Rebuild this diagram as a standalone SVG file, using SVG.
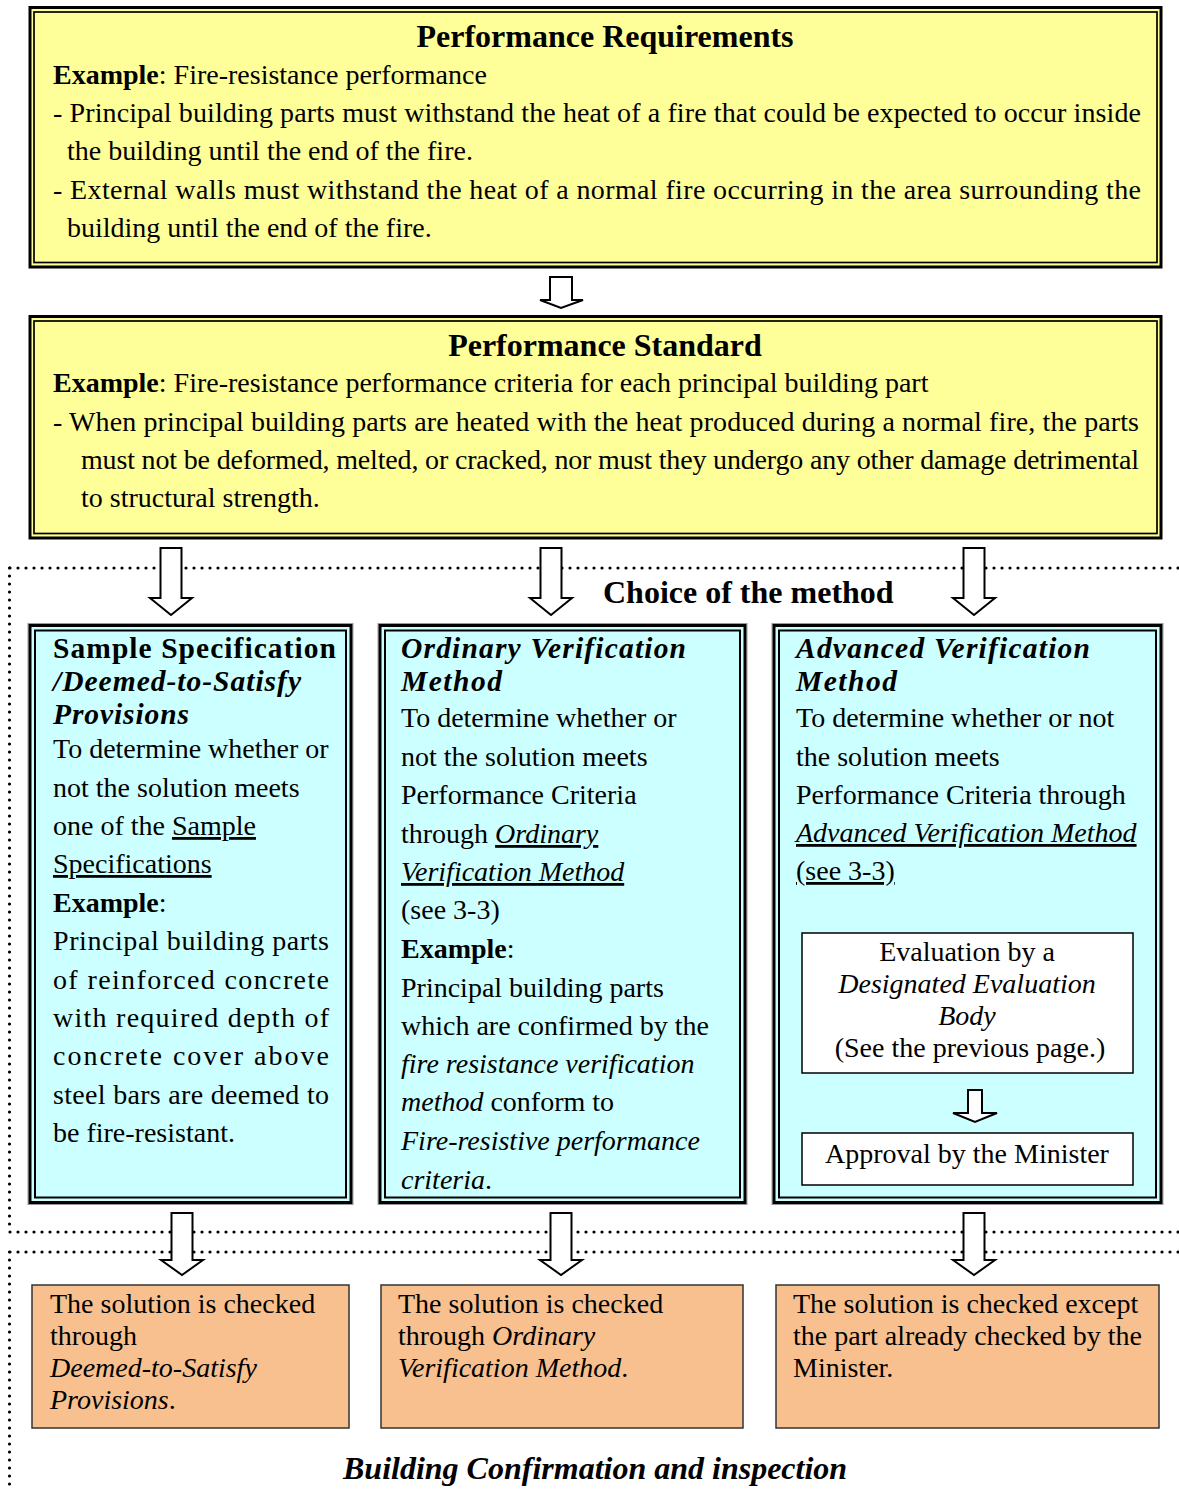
<svg xmlns="http://www.w3.org/2000/svg" width="1179" height="1491" viewBox="0 0 1179 1491">
<style>
text{font-family:"Liberation Serif","Times New Roman",serif;font-size:28px;fill:#000}
.h{font-size:32px;font-weight:bold}
.ht{font-size:29.5px;font-weight:bold}
.b{font-weight:bold}
.i{font-style:italic}
.u{text-decoration:underline}
.mid{text-anchor:middle}
.yo{fill:#FFFF99;stroke:#000;stroke-width:3}
.yi{fill:none;stroke:#000;stroke-width:1.7}
.co{fill:#CCFFFF;stroke:#000;stroke-width:3}
.cg{fill:none;stroke:#999;stroke-width:1}
.ci{fill:none;stroke:#000;stroke-width:2}
.wb{fill:#fff;stroke:#000;stroke-width:1.5}
.ob{fill:#F9C08F;stroke:#333;stroke-width:1.5}
.dot{fill:none;stroke:#000;stroke-width:3.2;stroke-linecap:round;stroke-dasharray:0 8}
.arr{fill:#fff;stroke:#000;stroke-width:2;stroke-linejoin:miter}
</style>
<rect width="1179" height="1491" fill="#fff"/>

<g id="regions">
<path class="dot" d="M10 568 H1179 M9.5 568 V1230 M10 1232 H1179 M10 1252 H1179 M9.5 1252 V1491"/>
<text x="603" y="603" class="h">Choice of the method</text>
<text x="343" y="1479" class="h i">Building Confirmation and inspection</text>
</g>

<g id="performance-requirements">
<rect class="yo" x="30" y="7.5" width="1131" height="259.5"/>
<rect class="yi" x="34" y="12" width="1123" height="250.5"/>
<text x="605" y="47" class="h mid">Performance Requirements</text>
<text x="53" y="84"><tspan class="b">Example</tspan>: Fire-resistance performance</text>
<text x="53" y="122" textLength="1088" lengthAdjust="spacing">- Principal building parts must withstand the heat of a fire that could be expected to occur inside</text>
<text x="67" y="160">the building until the end of the fire.</text>
<text x="53" y="199" textLength="1088" lengthAdjust="spacing">- External walls must withstand the heat of a normal fire occurring in the area surrounding the</text>
<text x="67" y="237">building until the end of the fire.</text>
</g>

<g id="performance-standard">
<rect class="yo" x="30" y="316.5" width="1131" height="221.5"/>
<rect class="yi" x="34" y="321" width="1123" height="212.5"/>
<text x="605" y="356" class="h mid">Performance Standard</text>
<text x="53" y="392"><tspan class="b">Example</tspan>: Fire-resistance performance criteria for each principal building part</text>
<text x="53" y="431" textLength="1086" lengthAdjust="spacing">- When principal building parts are heated with the heat produced during a normal fire, the parts</text>
<text x="81" y="469" textLength="1058" lengthAdjust="spacing">must not be deformed, melted, or cracked, nor must they undergo any other damage detrimental</text>
<text x="81" y="507">to structural strength.</text>
</g>

<g id="sample-specification">
<rect class="cg" x="28" y="623.5" width="325" height="581"/>
<rect class="co" x="30" y="625.5" width="321" height="577"/>
<rect class="ci" x="35" y="630.5" width="311" height="567"/>
<text x="53" y="658" class="ht" textLength="283" lengthAdjust="spacing">Sample Specification</text>
<text x="53" y="691" class="ht i" textLength="248" lengthAdjust="spacing">/Deemed-to-Satisfy</text>
<text x="53" y="724" class="ht i" textLength="136" lengthAdjust="spacing">Provisions</text>
<text x="53" y="758">To determine whether or</text>
<text x="53" y="797">not the solution meets</text>
<text x="53" y="835">one of the <tspan class="u">Sample</tspan></text>
<text x="53" y="873"><tspan class="u">Specifications</tspan></text>
<text x="53" y="912"><tspan class="b">Example</tspan>:</text>
<text x="53" y="950" textLength="276" lengthAdjust="spacing">Principal building parts</text>
<text x="53" y="989" textLength="276" lengthAdjust="spacing">of reinforced concrete</text>
<text x="53" y="1027" textLength="276" lengthAdjust="spacing">with required depth of</text>
<text x="53" y="1065" textLength="276" lengthAdjust="spacing">concrete cover above</text>
<text x="53" y="1104" textLength="276" lengthAdjust="spacing">steel bars are deemed to</text>
<text x="53" y="1142">be fire-resistant.</text>
</g>

<g id="ordinary-verification">
<rect class="cg" x="378" y="623.5" width="369" height="581"/>
<rect class="co" x="380" y="625.5" width="365" height="577"/>
<rect class="ci" x="385" y="630.5" width="355" height="567"/>
<text x="401" y="658" class="ht i" textLength="285" lengthAdjust="spacing">Ordinary Verification</text>
<text x="401" y="691" class="ht i" textLength="101" lengthAdjust="spacing">Method</text>
<text x="401" y="727">To determine whether or</text>
<text x="401" y="766">not the solution meets</text>
<text x="401" y="804">Performance Criteria</text>
<text x="401" y="843">through <tspan class="i u">Ordinary</tspan></text>
<text x="401" y="881"><tspan class="i u">Verification Method</tspan></text>
<text x="401" y="919">(see 3-3)</text>
<text x="401" y="958"><tspan class="b">Example</tspan>:</text>
<text x="401" y="997">Principal building parts</text>
<text x="401" y="1035">which are confirmed by the</text>
<text x="401" y="1073" class="i">fire resistance verification</text>
<text x="401" y="1111"><tspan class="i">method</tspan> conform to</text>
<text x="401" y="1150" class="i">Fire-resistive performance</text>
<text x="401" y="1189"><tspan class="i">criteria</tspan>.</text>
</g>

<g id="advanced-verification">
<rect class="cg" x="772" y="623.5" width="391" height="581"/>
<rect class="co" x="774" y="625.5" width="387" height="577"/>
<rect class="ci" x="779" y="630.5" width="377" height="567"/>
<text x="796" y="658" class="ht i" textLength="294" lengthAdjust="spacing">Advanced Verification</text>
<text x="796" y="691" class="ht i" textLength="101" lengthAdjust="spacing">Method</text>
<text x="796" y="727">To determine whether or not</text>
<text x="796" y="766">the solution meets</text>
<text x="796" y="804">Performance Criteria through</text>
<text x="796" y="842"><tspan class="i u">Advanced Verification Method</tspan></text>
<text x="796" y="880"><tspan class="u">(see 3-3)</tspan></text>
</g>

<g id="evaluation-body">
<rect class="wb" x="802" y="933" width="331" height="140"/>
<text x="967" y="961" class="mid">Evaluation by a</text>
<text x="967" y="993" class="mid i">Designated Evaluation</text>
<text x="967" y="1025" class="mid i">Body</text>
<text x="970" y="1057" class="mid">(See the previous page.)</text>
</g>

<g id="minister-approval">
<rect class="wb" x="802" y="1133" width="331" height="52"/>
<text x="967" y="1163" class="mid">Approval by the Minister</text>
</g>

<g id="check-deemed">
<rect class="ob" x="32" y="1285" width="317" height="143"/>
<text x="50" y="1313">The solution is checked</text>
<text x="50" y="1345">through</text>
<text x="50" y="1377" class="i">Deemed-to-Satisfy</text>
<text x="50" y="1409"><tspan class="i">Provisions</tspan>.</text>
</g>

<g id="check-ordinary">
<rect class="ob" x="381" y="1285" width="362" height="143"/>
<text x="398" y="1313">The solution is checked</text>
<text x="398" y="1345">through <tspan class="i">Ordinary</tspan></text>
<text x="398" y="1377"><tspan class="i">Verification Method</tspan>.</text>
</g>

<g id="check-advanced">
<rect class="ob" x="776" y="1285" width="383" height="143"/>
<text x="793" y="1313">The solution is checked except</text>
<text x="793" y="1345">the part already checked by the</text>
<text x="793" y="1377">Minister.</text>
</g>

<g id="connectors">
<path class="arr" d="M550 277 H572 V300 H583 L561 308 L540 300 H550 Z"/>
<path class="arr" d="M160.5 548 H181.5 V598 H192 L171 615 L150 598 H160.5 Z"/>
<path class="arr" d="M540.5 548 H561.5 V598 H572 L551 615 L530 598 H540.5 Z"/>
<path class="arr" d="M963.5 548 H984.5 V598 H995 L974 615 L953 598 H963.5 Z"/>
<path class="arr" d="M968 1090 H982 V1113 H997 L975 1122 L953 1113 H968 Z"/>
<path class="arr" d="M171.5 1213 H192.5 V1260 H203 L182 1275 L161 1260 H171.5 Z"/>
<path class="arr" d="M550.5 1213 H571.5 V1260 H582 L561 1275 L540 1260 H550.5 Z"/>
<path class="arr" d="M963.5 1213 H984.5 V1260 H995 L974 1275 L953 1260 H963.5 Z"/>
</g>
</svg>
